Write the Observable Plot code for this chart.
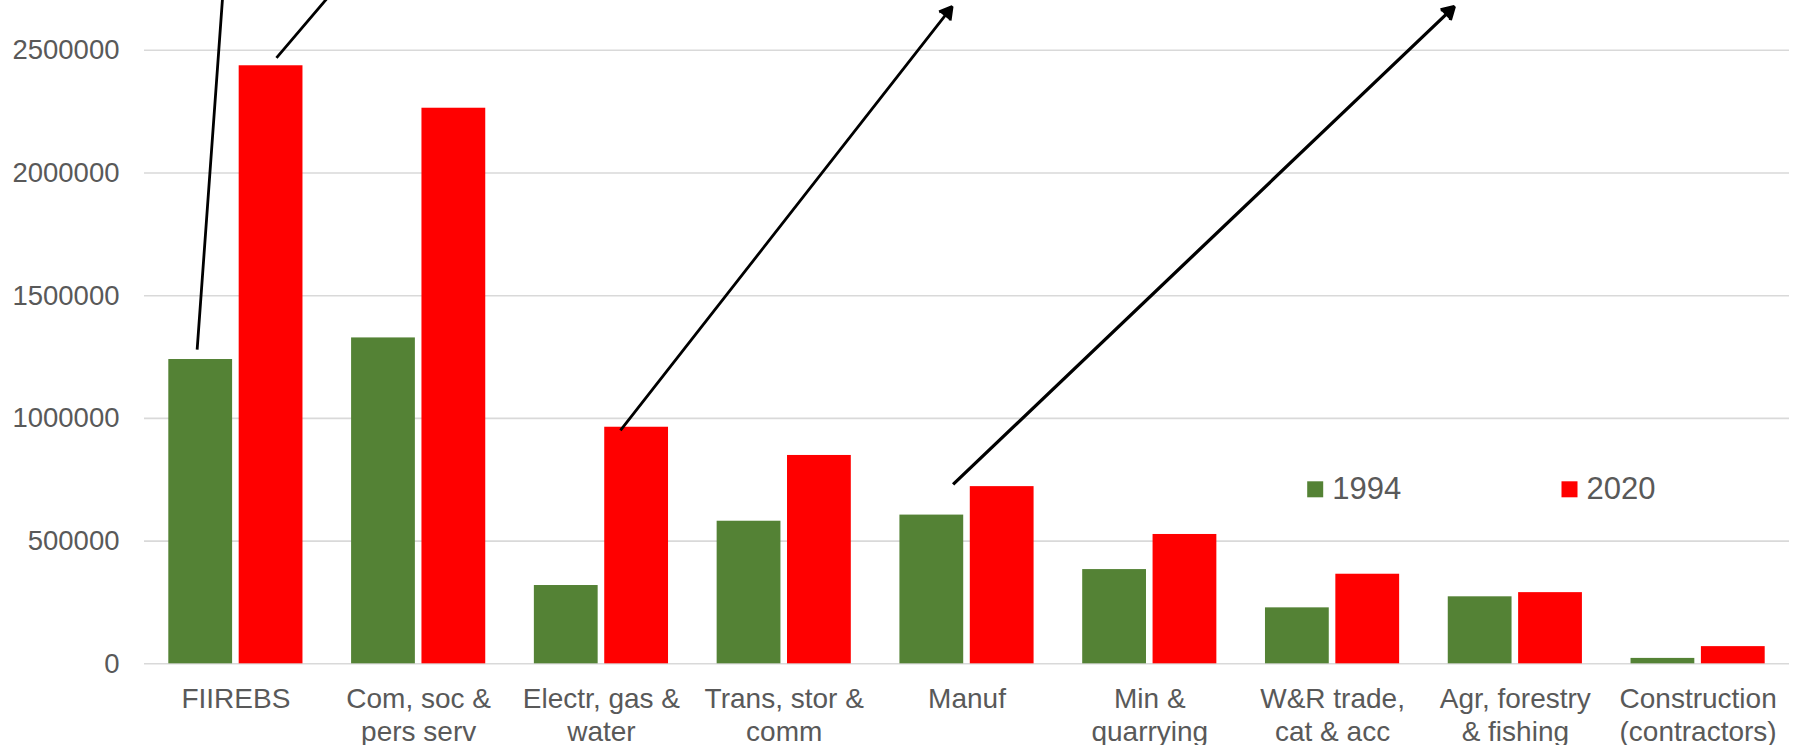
<!DOCTYPE html>
<html>
<head>
<meta charset="utf-8">
<script src="https://cdn.jsdelivr.net/npm/d3@7"></script>
<script src="https://cdn.jsdelivr.net/npm/@observablehq/plot@0.6"></script>
<style>
  html, body { margin: 0; padding: 0; background: #ffffff; }
  #chart { width: 1797px; height: 745px; }
</style>
</head>
<body>
<div id="chart"></div>
<script>
// ---- data ----
const categories = [
  "FIIREBS",
  "Com, soc &\npers serv",
  "Electr, gas &\nwater",
  "Trans, stor &\ncomm",
  "Manuf",
  "Min &\nquarrying",
  "W&R trade,\ncat & acc",
  "Agr, forestry\n& fishing",
  "Construction\n(contractors)"
];
const years = ["1994", "2020"];
const values1994 = [1240000, 1328000, 319000, 581000, 606000, 384000, 228000, 273000, 22000];
const values2020 = [2437000, 2264000, 964000, 849000, 722000, 527000, 365000, 290000, 70000];
const yTicks = [0, 500000, 1000000, 1500000, 2000000, 2500000];
const seriesColors = ["#548235", "#ff0000"];

// annotation arrows (in data units: category index offset, value)
const arrowCats  = [0, 0, 2, 4];
const arrowFromX = [-0.212, 0.222, 0.104, -0.076];
const arrowFromY = [1280000, 2469000, 951000, 731000];
const arrowToX   = [-0.05, 0.771, 1.9185, 2.666];
const arrowToY   = [2950000, 2950000, 2678000, 2678000];

// ---- build table ----
const seriesValues = [values1994, values2020];
const rows = categories.flatMap((c, i) =>
  years.map((yr, s) => ({ index: i, category: c, year: yr, s, value: seriesValues[s][i] }))
);
const arrows = arrowCats.map((c, k) => ({
  k,
  x1: c + arrowFromX[k], y1: arrowFromY[k],
  x2: c + arrowToX[k],   y2: arrowToY[k]
}));

// bar layout within a category (fractions of a category step)
const barOuter = 0.367, barInner = 0.018;

const textColor = "#595959";
const fontFamily = "'Liberation Sans', Arial, Helvetica, sans-serif";

const legendDx = [1170.7, 1425];
const legendMarks = years.flatMap((yr, s) => [
  Plot.dot([yr], {
    frameAnchor: "top-left", dx: legendDx[s], dy: 488.8,
    symbol: "square", r: 9.03, fill: seriesColors[s], stroke: null
  }),
  Plot.text([yr], {
    frameAnchor: "top-left", dx: legendDx[s] + 17, dy: 488.8,
    text: d => d, textAnchor: "start", lineAnchor: "middle",
    fontSize: 31, fill: textColor
  })
]);

const chart = Plot.plot({
  width: 1797,
  height: 745,
  marginTop: 0,
  marginBottom: 81.7,
  marginLeft: 144,
  marginRight: 8,
  style: { fontFamily, color: textColor, background: "#ffffff", overflow: "hidden" },
  x: { type: "linear", domain: [-0.5, categories.length - 0.5], label: null },
  y: { domain: [0, 2703000], label: null },
  color: { domain: years, range: seriesColors },
  marks: [
    Plot.gridY(yTicks, { stroke: "#d9d9d9", strokeOpacity: 1, strokeWidth: 1.6 }),
    Plot.rect(rows, {
      x1: d => d.index + (d.s === 0 ? -barOuter : barInner),
      x2: d => d.index + (d.s === 0 ? -barInner : barOuter),
      y1: 0,
      y2: "value",
      fill: "year"
    }),
    Plot.axisY(yTicks, {
      tickSize: 0, tickPadding: 25, fontSize: 27.5,
      tickFormat: d => String(d), fill: textColor
    }),
    Plot.axisX(d3.range(categories.length), {
      tickSize: 0, tickPadding: 21, fontSize: 28, lineHeight: 1.18,
      tickFormat: i => categories[i], fill: textColor
    }),
    Plot.arrow(arrows.filter(d => d.k < 3), {
      x1: "x1", y1: "y1", x2: "x2", y2: "y2",
      stroke: "#000000", fill: "#000000", strokeWidth: 2.8,
      headLength: 7.5, headAngle: 60, strokeLinecap: "butt"
    }),
    Plot.arrow(arrows.filter(d => d.k >= 3), {
      x1: "x1", y1: "y1", x2: "x2", y2: "y2",
      stroke: "#000000", fill: "#000000", strokeWidth: 3.3,
      headLength: 6.4, headAngle: 60, strokeLinecap: "butt"
    }),
    ...legendMarks
  ]
});

document.getElementById("chart").append(chart);
</script>
</body>
</html>
